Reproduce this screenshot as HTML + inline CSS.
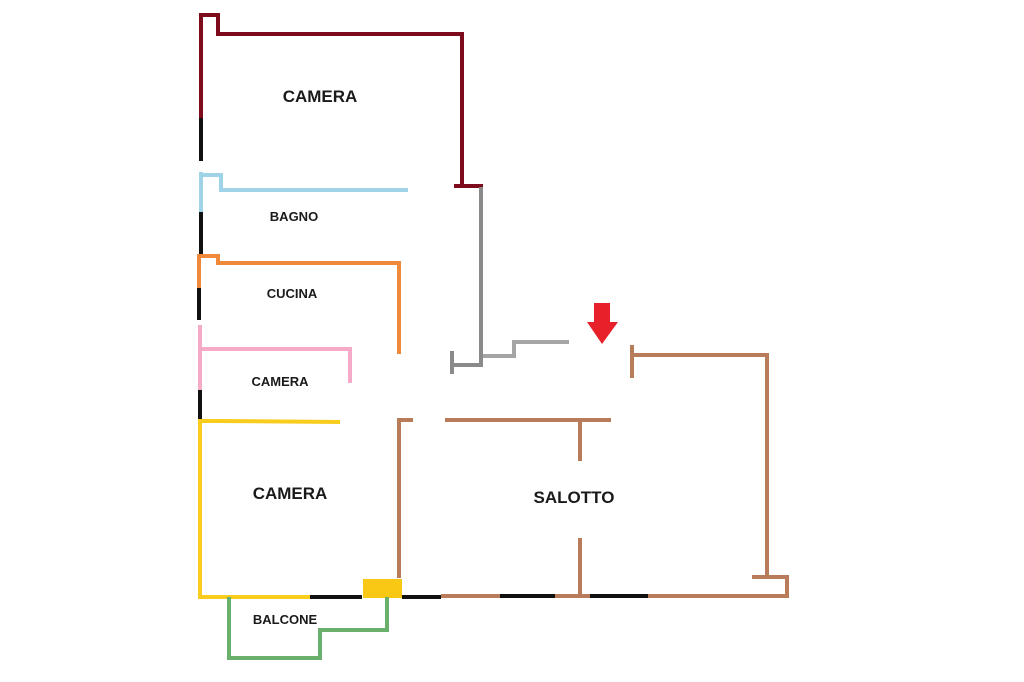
<!DOCTYPE html>
<html><head><meta charset="utf-8"><style>
html,body{margin:0;padding:0;background:#fff;}
svg{display:block}
text{font-family:"Liberation Sans",sans-serif;font-weight:bold;fill:#1a1a1a;text-anchor:middle}
</style></head><body>
<svg width="1024" height="682" viewBox="0 0 1024 682" xmlns="http://www.w3.org/2000/svg">
<g fill="none" stroke-width="4" stroke-linecap="butt" stroke-linejoin="miter">
<!-- dark red -->
<polyline stroke="#7d0b1c" points="201,118 201,15 218,15 218,34 462,34 462,186"/>
<line stroke="#7d0b1c" x1="454" y1="186" x2="483" y2="186"/>
<line stroke="#111" x1="201" y1="118" x2="201" y2="161"/>
<!-- blue -->
<line stroke="#9fd4e8" x1="201" y1="172" x2="201" y2="212"/>
<polyline stroke="#9fd4e8" points="201,175 221,175 221,190 408,190"/>
<line stroke="#111" x1="201" y1="212" x2="201" y2="254"/>
<!-- orange -->
<line stroke="#f0893a" x1="199" y1="254" x2="199" y2="288"/>
<polyline stroke="#f0893a" points="199,256 218,256 218,263 399,263 399,354"/>
<line stroke="#111" x1="199" y1="288" x2="199" y2="320"/>
<!-- pink -->
<line stroke="#f5aac8" x1="200" y1="325" x2="200" y2="390"/>
<polyline stroke="#f5aac8" points="200,349 350,349 350,383"/>
<line stroke="#111" x1="200" y1="390" x2="200" y2="421"/>
<!-- yellow -->
<polyline stroke="#f9cc1e" points="340,422 220,421 200,421 200,597 310,597"/>
<line stroke="#111" x1="310" y1="597" x2="362" y2="597"/>
<rect x="363" y="579" width="39" height="19" fill="#f9c814" stroke="none"/>
<line stroke="#111" x1="402" y1="597" x2="441" y2="597"/>
<!-- green -->
<polyline stroke="#68b06c" points="229,597 229,658 320,658 320,630 387,630 387,597"/>
<!-- brown -->
<polyline stroke="#b97c5a" points="441,596 500,596"/>
<line stroke="#111" x1="500" y1="596" x2="555" y2="596"/>
<line stroke="#b97c5a" x1="555" y1="596" x2="590" y2="596"/>
<line stroke="#111" x1="590" y1="596" x2="648" y2="596"/>
<polyline stroke="#b97c5a" points="648,596 787,596 787,577 752,577"/>
<polyline stroke="#b97c5a" points="767,577 767,355 632,355"/>
<line stroke="#b97c5a" x1="632" y1="345" x2="632" y2="378"/>
<line stroke="#b97c5a" x1="445" y1="420" x2="611" y2="420"/>
<line stroke="#b97c5a" x1="580" y1="420" x2="580" y2="461"/>
<line stroke="#b97c5a" x1="580" y1="538" x2="580" y2="596"/>
<polyline stroke="#b97c5a" points="413,420 399,420 399,578"/>
<!-- gray -->
<line stroke="#8a8a8a" x1="481" y1="187" x2="481" y2="366"/>
<line stroke="#8a8a8a" x1="452" y1="365" x2="483" y2="365"/>
<line stroke="#8a8a8a" x1="452" y1="351" x2="452" y2="374"/>
<polyline stroke="#a5a5a5" points="483,356 514,356 514,342 569,342"/>
</g>
<polygon fill="#e8202a" points="594,303 610,303 610,322 618,322 602,344 587,322 594,322"/>
<text x="320" y="102" font-size="17">CAMERA</text>
<text x="294" y="221" font-size="13">BAGNO</text>
<text x="292" y="298" font-size="13">CUCINA</text>
<text x="280" y="386" font-size="13">CAMERA</text>
<text x="290" y="499" font-size="17">CAMERA</text>
<text x="574" y="503" font-size="17">SALOTTO</text>
<text x="285" y="624" font-size="13">BALCONE</text>
</svg>
</body></html>
